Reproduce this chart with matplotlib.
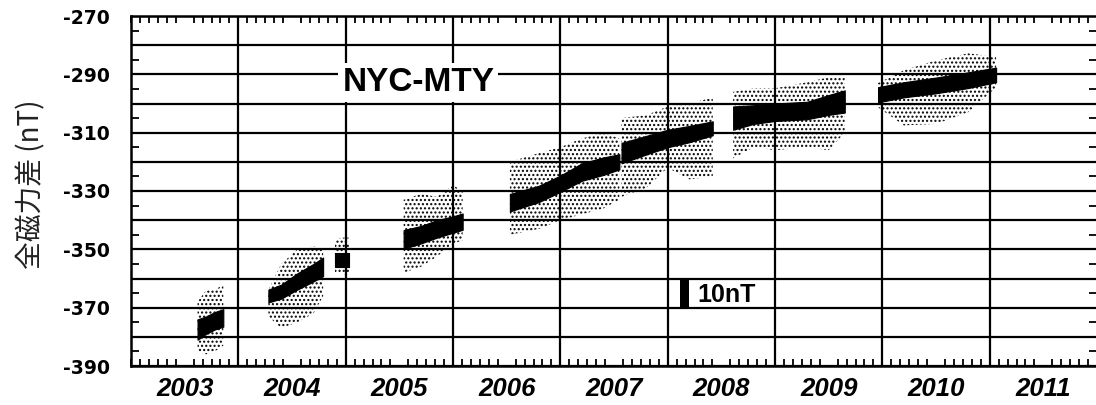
import numpy as np
import matplotlib
matplotlib.use('Agg')
import matplotlib.pyplot as plt
from matplotlib.ticker import FixedLocator, MultipleLocator

# knots: segment id, decimal year, core centre, core half width,
# upper and lower edge of the scatter cloud (nT)
knot_seg = [0, 0, 0, 0,
            1, 1, 1, 1, 1,
            2, 2, 2,
            3, 3, 3, 3, 3,
            4, 4, 4, 4, 4, 4,
            5, 5, 5, 5, 5,
            6, 6, 6, 6, 6, 6,
            7, 7, 7, 7, 7]
knot_year = [2003.62, 2003.70, 2003.78, 2003.86,
             2004.28, 2004.40, 2004.55, 2004.70, 2004.79,
             2004.90, 2004.96, 2005.03,
             2005.54, 2005.70, 2005.85, 2006.00, 2006.09,
             2006.53, 2006.80, 2007.00, 2007.20, 2007.40, 2007.55,
             2007.57, 2007.80, 2008.00, 2008.20, 2008.42,
             2008.61, 2008.80, 2009.00, 2009.30, 2009.50, 2009.65,
             2009.96, 2010.20, 2010.50, 2010.80, 2011.06]
knot_core = [-377.5, -376.0, -374.5, -373.5,
             -366.0, -364.5, -361.0, -358.0, -356.0,
             -353.5, -353.5, -353.5,
             -346.6, -345.0, -343.0, -341.5, -340.5,
             -334.0, -331.0, -327.5, -323.5, -321.5, -320.0,
             -317.0, -314.3, -312.0, -310.5, -308.5,
             -305.0, -303.8, -303.0, -302.4, -300.5, -299.3,
             -297.0, -295.3, -293.8, -292.0, -290.2]
knot_halfw = [3.5, 3.0, 3.0, 3.0,
              2.2, 2.4, 2.8, 3.0, 3.2,
              2.4, 2.4, 2.4,
              3.2, 3.0, 3.0, 2.8, 2.8,
              3.0, 2.8, 2.8, 3.0, 3.0, 2.6,
              3.5, 3.2, 3.0, 2.8, 2.4,
              4.0, 3.2, 3.0, 3.0, 3.4, 3.8,
              2.6, 2.6, 2.7, 2.7, 2.5]
knot_top = [-368.0, -364.0, -364.0, -362.0,
            -364.0, -355.0, -350.0, -349.0, -350.0,
            -347.0, -346.0, -346.0,
            -333.0, -331.0, -332.0, -328.0, -330.0,
            -320.0, -317.0, -315.0, -312.0, -310.0, -312.0,
            -305.0, -304.0, -301.0, -300.0, -298.0,
            -296.0, -294.8, -294.8, -292.7, -291.0, -291.0,
            -293.0, -288.6, -285.2, -282.8, -284.0]
knot_bottom = [-385.0, -386.0, -385.0, -383.0,
               -373.0, -377.0, -375.0, -372.0, -366.0,
               -358.0, -358.0, -360.0,
               -358.0, -356.0, -352.5, -348.0, -347.0,
               -345.0, -343.0, -340.0, -338.0, -336.0, -333.0,
               -332.0, -329.0, -322.0, -326.0, -325.0,
               -318.8, -315.0, -316.0, -315.0, -316.0, -310.0,
               -301.3, -307.5, -307.0, -303.0, -294.5]

years = [2003, 2004, 2005, 2006, 2007, 2008, 2009, 2010, 2011]
y_labels = [-390, -370, -350, -330, -310, -290, -270]
station = 'NYC-MTY'
scale_text = '10nT'
scale_year = 2008.155
scale_low = -370
scale_size = 10

df_seg = np.array(knot_seg)
x_all = np.array(knot_year)
core = np.array(knot_core)
hw = np.array(knot_halfw)
top = np.array(knot_top)
bot = np.array(knot_bottom)

plt.rcParams['hatch.linewidth'] = 1.0

fig = plt.figure(figsize=(10.96, 4.05), dpi=100)
ax = fig.add_axes([131 / 1096, 39 / 405, 966 / 1096, 350 / 405])

# scatter cloud as stipple, dense core as solid black
for s in np.unique(df_seg):
    m = df_seg == s
    ax.fill_between(x_all[m], bot[m], top[m], facecolor='none', edgecolor='black',
                    linewidth=0, hatch='....', zorder=3)
    ax.fill_between(x_all[m], core[m] - hw[m], core[m] + hw[m], color='black',
                    linewidth=0.8, zorder=4)

ax.set_xlim(2003, 2012)
ax.set_ylim(-390, -270)

# grid: every 10 nT and every year
ax.yaxis.set_major_locator(MultipleLocator(10))
ax.yaxis.set_minor_locator(FixedLocator(np.arange(-385, -270, 10)))
ax.yaxis.set_major_formatter(plt.FuncFormatter(lambda v, p: '%d' % v if int(round(v)) in y_labels else ''))
ax.grid(axis='y', which='major', color='black', linewidth=1.6, zorder=1)
for yr in years[1:]:
    ax.axvline(yr, color='black', linewidth=1.6, zorder=1)

ax.xaxis.set_major_locator(FixedLocator([y + 0.5 for y in years]))
ax.set_xticklabels([str(y) for y in years], fontsize=18.5, fontweight='bold',
                   fontstyle='italic', family='Liberation Sans')
ax.xaxis.set_minor_locator(MultipleLocator(1 / 12))

ax.tick_params(axis='x', which='major', length=0, pad=8)
ax.tick_params(axis='x', which='minor', direction='in', length=5, width=1.3,
               top=True, bottom=True)
ax.tick_params(axis='y', which='major', length=0, pad=15, labelsize=13.5)
ax.tick_params(axis='y', which='minor', direction='in', length=6, width=1.3,
               left=True, right=True)
for lab in ax.get_yticklabels():
    lab.set_fontweight('bold')
    lab.set_family('DejaVu Sans')

for sp in ax.spines.values():
    sp.set_linewidth(1.8)

ax.set_ylabel('全磁力差 (nT)', fontsize=20, color='#222222',
              family=['Noto Sans CJK JP', 'DejaVu Sans'], labelpad=12)
ax.yaxis.label.set_y(0.52)

# station name with white box
ax.text(2004.97, -292.8, station, fontsize=24, fontweight='bold', family='Liberation Sans',
        va='center', ha='left', zorder=6,
        bbox=dict(boxstyle='square,pad=0.12', facecolor='white', edgecolor='none'))

# 10 nT scale bar
ax.bar(scale_year, scale_size, bottom=scale_low, width=0.08, color='black', zorder=5)
ax.text(2008.275, -365.5, scale_text, fontsize=18, fontweight='bold', family='Liberation Sans',
        va='center', ha='left', zorder=6)

fig.savefig('out.png', dpi=100)
